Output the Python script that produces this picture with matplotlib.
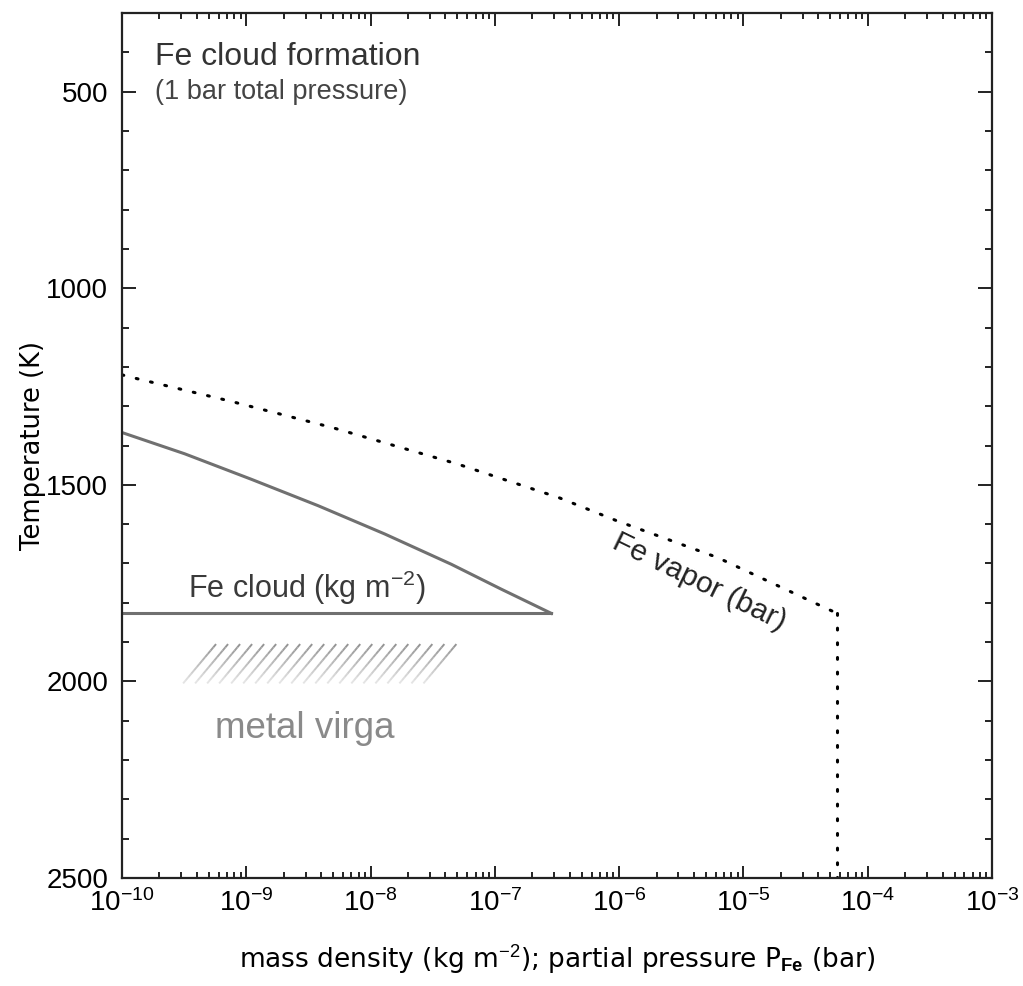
import numpy as np
import matplotlib
matplotlib.use("Agg")
import matplotlib.pyplot as plt
from matplotlib.collections import LineCollection
from matplotlib.ticker import FixedLocator, NullFormatter

plt.rcParams["font.family"] = ["Liberation Sans", "DejaVu Sans"]
plt.rcParams["mathtext.fontset"] = "custom"
plt.rcParams["mathtext.rm"] = "Liberation Sans"
plt.rcParams["mathtext.it"] = "Liberation Sans:italic"
plt.rcParams["mathtext.bf"] = "Liberation Sans:bold"

# Fe vapor partial pressure (bar) vs temperature (K)
vapor_p = [1e-10, 1.07e-10, 7.4e-10, 5.0e-9, 5.0e-8, 3.3e-7, 9.5e-7, 6.2e-6, 4.7e-5, 5.7e-5]
vapor_t = [1220, 1223, 1287, 1355, 1447, 1533, 1591, 1685, 1815, 1827]
# below the condensation point the vapor stays at its saturated value
vapor_floor_p = [5.7e-5, 5.7e-5]
vapor_floor_t = [1827, 2500]

# condensed Fe cloud mass density (kg m^-2)
cloud_m = [1e-10, 3.19e-10, 1.10e-9, 3.78e-9, 1.30e-8, 4.46e-8, 1.12e-7, 2.85e-7]
cloud_t = [1367, 1421, 1486, 1553, 1625, 1702, 1765, 1827]
cloud_base_m = [1e-10, 2.85e-7]
cloud_base_t = [1827, 1827]

# metal virga band (falling Fe below the cloud base)
virga_m = [3.1e-10, 4.9e-8]
virga_t = [1905, 2005]

x_decades = list(range(-10, -2))
y_major = [500, 1000, 1500, 2000, 2500]

fig = plt.figure(figsize=(10.23, 9.86), dpi=100)
ax = fig.add_axes([0.1193, 0.1095, 0.8504, 0.8773])
ax.set_xscale("log")
ax.set_xlim(1e-10, 1e-3)
ax.set_ylim(2500, 300)

dots = (0, (0.6, 4.2))
ax.plot(vapor_p, vapor_t, color="black", lw=2.2, ls=dots, dash_capstyle="round")
ax.plot(vapor_floor_p, vapor_floor_t, color="black", lw=2.2, ls=dots,
        dash_capstyle="round")
ax.plot(cloud_m, cloud_t, color="#707070", lw=2.2, solid_joinstyle="round")
ax.plot(cloud_base_m, cloud_base_t, color="#707070", lw=2.2)

# virga hatching: slanted strokes that fade toward the bottom
lo, hi = np.log10(virga_m)
slant = 0.265
n_lines, n_seg = 21, 12
segs, cols = [], []
for x0 in np.linspace(lo, hi - slant, n_lines):
    f = np.linspace(0, 1, n_seg + 1)
    xs = 10 ** (x0 + slant * f)
    ts = virga_t[1] + (virga_t[0] - virga_t[1]) * f
    for i in range(n_seg):
        segs.append([(xs[i], ts[i]), (xs[i + 1], ts[i + 1])])
        a = 0.2 + 0.75 * (i + 0.5) / n_seg
        cols.append((0.55, 0.55, 0.55, a))
ax.add_collection(LineCollection(segs, colors=cols, linewidths=1.4))

# annotations
ax.text(1.84e-10, 431, "Fe cloud formation", fontsize=23, color="#333333",
        va="baseline", ha="left")
ax.text(1.84e-10, 518, "(1 bar total pressure)", fontsize=19.5, color="#444444",
        va="baseline", ha="left")
ax.text(3.4e-10, 1789, r"Fe cloud (kg m$^{-2}$)", fontsize=22, color="#3a3a3a",
        va="baseline", ha="left")
ax.text(5.6e-10, 2145, "metal virga", fontsize=26.5, color="#8a8a8a",
        va="baseline", ha="left")
ax.text(4.4e-6, 1748, "Fe vapor (bar)", fontsize=21.5, color="#222222",
        rotation=-26, ha="center", va="center", rotation_mode="anchor")

# axes styling: fixed ticks so nothing falls outside the frame
ax.xaxis.set_major_locator(FixedLocator([10.0 ** d for d in x_decades]))
ax.xaxis.set_minor_locator(FixedLocator(
    [m * 10.0 ** d for d in x_decades[:-1] for m in range(2, 10)]))
ax.xaxis.set_minor_formatter(NullFormatter())
ax.set_xticklabels([rf"$10^{{{d}}}$" for d in x_decades])
ax.yaxis.set_major_locator(FixedLocator(y_major))
ax.yaxis.set_minor_locator(FixedLocator(list(range(300, 2500, 100))))
ax.set_yticklabels([str(v) for v in y_major])

ax.tick_params(which="both", direction="in", top=True, right=True, width=1.4,
               color="#222222")
ax.tick_params(axis="y", which="major", length=10, labelsize=20, pad=10)
ax.tick_params(axis="y", which="minor", length=5)
ax.tick_params(axis="x", which="major", length=9, labelsize=20, pad=8)
ax.tick_params(axis="x", which="minor", length=4.5)
for s in ax.spines.values():
    s.set_linewidth(1.6)
    s.set_color("#222222")

ax.set_xlabel(r"mass density (kg m$^{-2}$); partial pressure P$_{\mathbf{Fe}}$ (bar)",
              fontsize=19, family=["DejaVu Sans"])
ax.set_ylabel("Temperature (K)", fontsize=18.5, family=["DejaVu Sans"])
ax.yaxis.set_label_coords(-0.087, 0.5)
ax.xaxis.set_label_coords(0.5, -0.076)

fig.savefig("out.png", dpi=100)
